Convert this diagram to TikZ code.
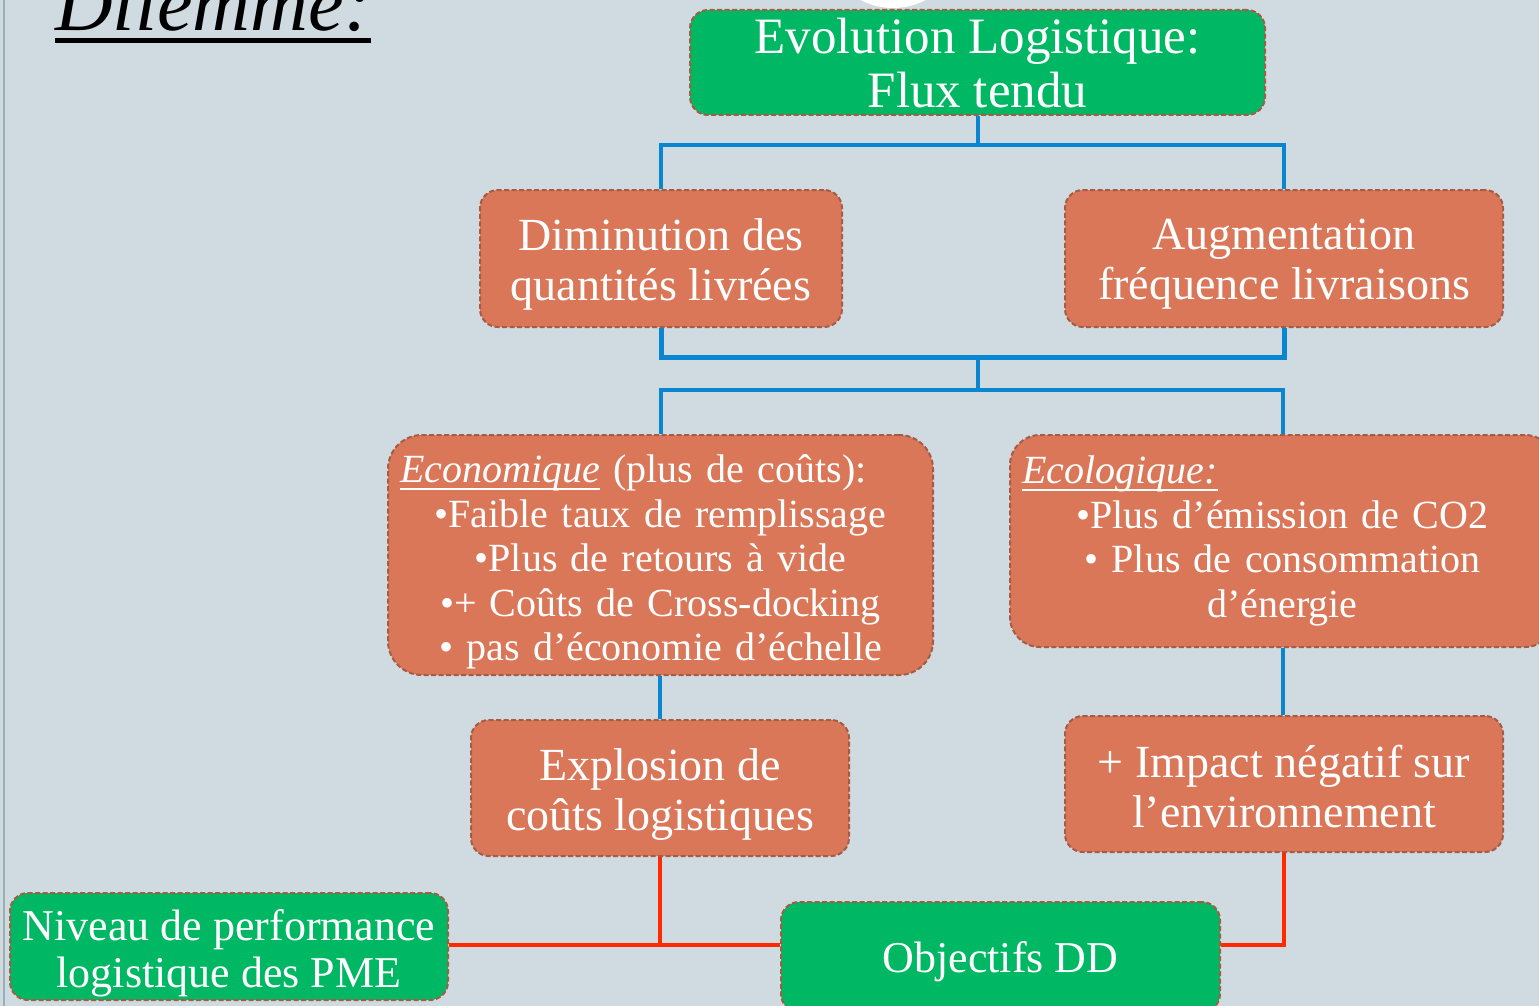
\documentclass[tikz,border=0pt]{standalone}
\usepackage{fontspec}
\setmainfont{Liberation Serif}
\newcommand{\myul}[1]{{\setbox0\hbox{#1}\rlap{\vrule width\wd0 height -5pt depth 7pt}\box0}}
\definecolor{bgc}{HTML}{CFDBE0}
\definecolor{grn}{HTML}{00B863}
\definecolor{orng}{HTML}{DB7759}
\definecolor{bord}{HTML}{A65B45}
\definecolor{blu}{HTML}{0A85CF}
\definecolor{rd}{HTML}{FF2A00}
\definecolor{edge}{HTML}{9AB0B4}
\tikzset{
  box/.style={draw=bord, line width=2pt, dash pattern=on 5pt off 2.5pt,
    rounded corners=18pt, inner sep=0pt},
  obox/.style={box, fill=orng},
  gbox/.style={box, fill=grn},
  txt/.style={text=white, align=center, inner sep=0pt},
  blueline/.style={draw=blu, line width=4pt},
  redline/.style={draw=rd, line width=4pt},
}
\begin{document}
\begin{tikzpicture}[x=1pt,y=-1pt]
\useasboundingbox (0,0) rectangle (1539,1006);
\clip (0,0) rectangle (1539,1006);
\fill[bgc] (0,0) rectangle (1539,1006);
\draw[edge, line width=2pt] (4,0) -- (4,1006);
\fill[white] (893,-62) circle (70);

% title
\node[anchor=base west, inner sep=0pt, font=\fontsize{80}{84}\selectfont\itshape] (title) at (55,31) {Dilemme:};
\draw[black, line width=5pt] ([yshift=-9.5pt]title.base west) -- ([yshift=-9.5pt]title.base east);

% boxes
\node[gbox, minimum width=575pt, minimum height=105pt] (top) at (977.5,62.5) {};
\node[txt, font=\fontsize{51}{54}\selectfont] (topt) at ([yshift=-1pt]top.center) {Evolution Logistique:\\Flux tendu};

\node[obox, minimum width=362pt, minimum height=137pt] (dim) at (661,258.5) {};
\node[txt, font=\fontsize{46}{50}\selectfont] (dimt) at ([yshift=-6pt]dim.center) {Diminution des\\quantités livrées};
\node[obox, minimum width=438pt, minimum height=137pt] (aug) at (1284,258.5) {};
\node[txt, font=\fontsize{46}{50}\selectfont] (augt) at ([yshift=-6pt]aug.center) {Augmentation\\fréquence livraisons};

\node[obox, rounded corners=34pt, minimum width=545pt, minimum height=240pt] (eco) at (660.5,555) {};
\node[txt, text width=521pt, font=\fontsize{40}{44.5}\selectfont] (ecot) at ([yshift=-7pt]eco.center)
  {\makebox[521pt][l]{\myul{\textit{Economique}} (plus de coûts):}\\
   •Faible taux de remplissage\\
   •Plus de retours à vide\\
   •+ Coûts de Cross-docking\\
   • pas d’économie d’échelle};
\node[obox, rounded corners=30pt, minimum width=545pt, minimum height=212pt] (ecol) at (1282.5,541) {};
\node[txt, text width=521pt, font=\fontsize{40}{44.5}\selectfont] (ecolt) at (ecol.center)
  {\makebox[521pt][l]{\myul{\textit{Ecologique:}}}\\
   •Plus d’émission de CO2\\
   • Plus de consommation\\
   d’énergie};

\node[obox, minimum width=378pt, minimum height=136pt] (expl) at (660,788) {};
\node[txt, font=\fontsize{46}{50}\selectfont] (explt) at ([yshift=-6pt]expl.center) {Explosion de\\coûts logistiques};
\node[obox, minimum width=438pt, minimum height=136pt] (imp) at (1284,784) {};
\node[txt, font=\fontsize{46}{50}\selectfont] (impt) at ([yshift=-3pt]imp.center) {+ Impact négatif sur\\l’environnement};

\node[gbox, minimum width=438pt, minimum height=107pt] (niv) at (229,946.5) {};
\node[txt, font=\fontsize{44}{47}\selectfont] (nivt) at ([yshift=-7pt]niv.center) {Niveau de performance\\logistique des PME};
\node[gbox, minimum width=439pt, minimum height=110pt] (obj) at (1000.5,957) {};
\node[txt, font=\fontsize{44}{47}\selectfont] (objt) at ([yshift=-5pt]obj.center) {Objectifs DD};

% blue connectors
\coordinate (b1) at (978,145);
\coordinate (b2) at (978,357);
\coordinate (b3) at (978,390);
\draw[blueline] (b1 |- top.south) -- (b1);
\draw[blueline] (dim.north) |- (b1) -| (aug.north);
\draw[blueline, line width=5pt] (dim.south) |- (b2) -| (aug.south);
\draw[blueline] (b2) -- (b3);
\draw[blueline] (eco.north) |- (b3) -| (ecol.north);
\draw[blueline] (expl.north |- eco.south) -- (expl.north);
\draw[blueline] (ecol.south) -- (ecol.south |- imp.north);

% red connectors
\coordinate (r) at (660,945);
\draw[redline] (niv.east |- r) -- (obj.west |- r);
\draw[redline] (expl.south) -- (r);
\draw[redline] (imp.south) |- (obj.east |- r);
\end{tikzpicture}
\end{document}
